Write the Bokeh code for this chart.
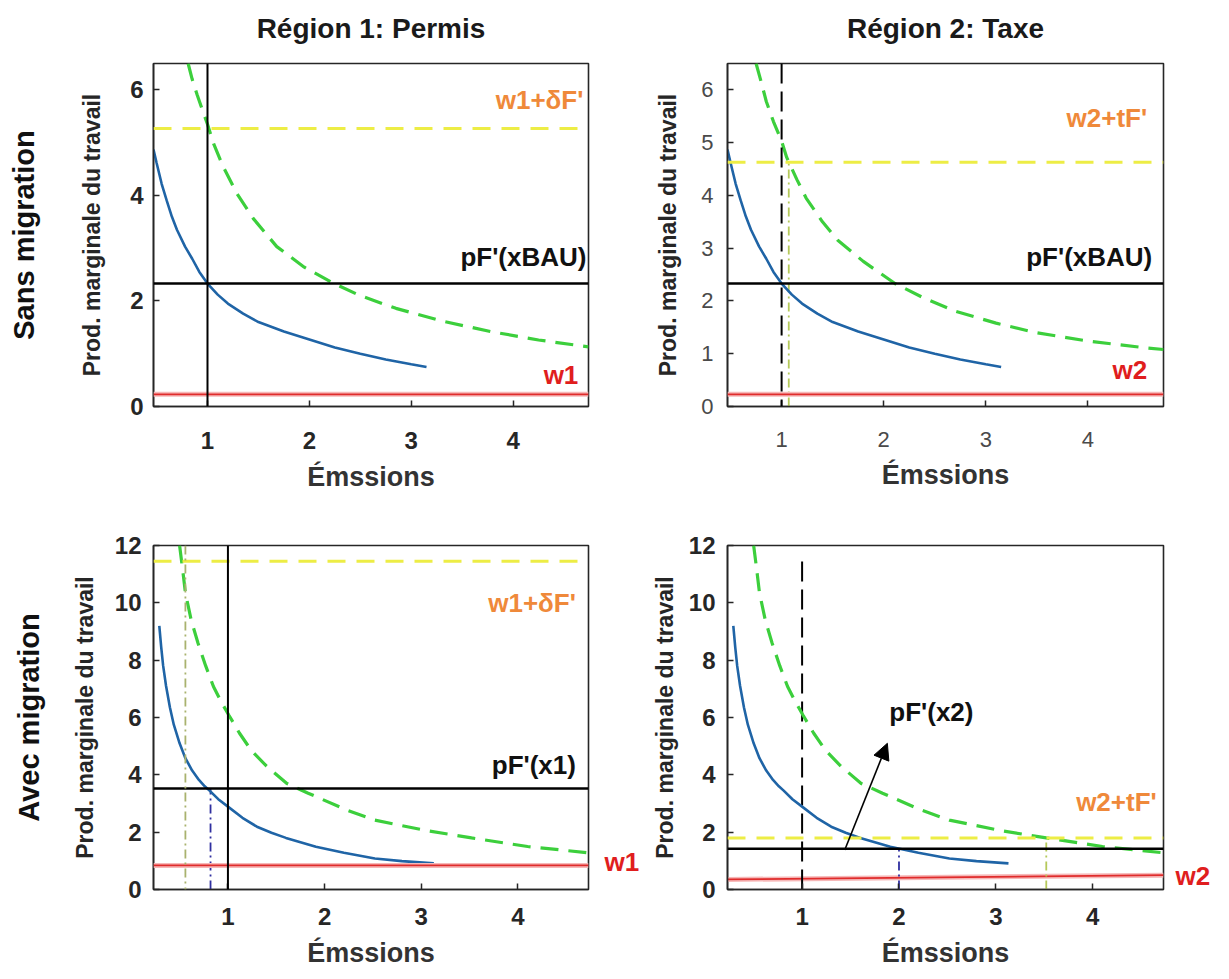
from bokeh.plotting import figure
from bokeh.models import (Range1d, LinearAxis, Label, Arrow, NormalHead, FixedTicker,
                          Span, CustomJSTickFormatter)
from bokeh.layouts import column, row
from bokeh.embed import file_html
from bokeh.resources import INLINE

# ---------------- data ----------------
col_titles = ["Région 1: Permis", "Région 2: Taxe"]
row_titles = ["Sans migration", "Avec migration"]
x_label = "Émssions"
y_label = "Prod. marginale du travail"

x_ticks = [1, 2, 3, 4]
y_ticks_tl = [0, 2, 4, 6]
y_ticks_tr = [0, 1, 2, 3, 4, 5, 6]
y_ticks_bottom = [0, 2, 4, 6, 8, 10, 12]

x_range_top = [0.47, 4.74]
y_range_top = [0, 6.5]
x_range_bottom = [0.23, 4.73]
y_range_bottom = [0, 12]

# top row: blue marginal product curve (same in both regions)
top_blue_x = [0.47, 0.5, 0.55, 0.6, 0.65, 0.7, 0.78, 0.85, 0.92, 1.0, 1.1, 1.2, 1.35, 1.5,
              1.75, 2.0, 2.25, 2.5, 2.75, 3.0, 3.15]
top_blue_y = [4.87, 4.62, 4.22, 3.9, 3.6, 3.35, 3.03, 2.8, 2.55, 2.33, 2.12, 1.95, 1.76, 1.6,
              1.42, 1.27, 1.12, 1.0, 0.89, 0.8, 0.75]

# top-left green dashed curve
tl_green_x = [0.81, 0.85, 0.9, 0.95, 1.0, 1.06, 1.15, 1.29, 1.45, 1.68, 1.95, 2.23, 2.5, 2.85,
              3.3, 3.78, 4.25, 4.74]
tl_green_y = [6.5, 6.2, 5.9, 5.62, 5.35, 4.98, 4.56, 4.03, 3.56, 3.03, 2.64, 2.34, 2.1, 1.86,
              1.62, 1.42, 1.26, 1.13]

# top-right green dashed curve
tr_green_x = [0.75, 0.8, 0.85, 0.92, 1.0, 1.05, 1.15, 1.24, 1.4, 1.55, 1.8, 2.11, 2.4, 2.71,
              3.1, 3.49, 4.0, 4.57, 4.74]
tr_green_y = [6.5, 6.15, 5.78, 5.4, 5.03, 4.72, 4.3, 3.95, 3.5, 3.15, 2.75, 2.33, 2.05, 1.8,
              1.58, 1.4, 1.24, 1.11, 1.08]

# bottom row: blue curve (same in both regions)
bot_blue_x = [0.29, 0.31, 0.33, 0.36, 0.4, 0.44, 0.5, 0.56, 0.63, 0.7, 0.76, 0.81, 0.9, 1.0,
              1.15, 1.3, 1.45, 1.6, 1.91, 2.2, 2.52, 2.8, 3.13]
bot_blue_y = [9.2, 8.45, 7.8, 7.1, 6.35, 5.75, 5.1, 4.58, 4.15, 3.82, 3.6, 3.45, 3.15, 2.89,
              2.5, 2.19, 1.98, 1.8, 1.49, 1.28, 1.08, 0.99, 0.91]

# bottom row: green dashed curve
bot_green_x = [0.5, 0.53, 0.56, 0.62, 0.69, 0.77, 0.85, 0.93, 1.01, 1.12, 1.24, 1.4, 1.61,
               1.83, 2.23, 2.52, 3.06, 3.52, 4.1, 4.73]
bot_green_y = [12.0, 11.2, 10.35, 9.4, 8.6, 7.8, 7.08, 6.55, 6.08, 5.45, 4.86, 4.3, 3.7,
               3.36, 2.77, 2.42, 2.05, 1.8, 1.5, 1.28]

# reference levels
tl_pf, tl_yellow, tl_red, tl_vline = 2.33, 5.27, 0.23, 1.0
tr_pf, tr_yellow, tr_red, tr_vdash, tr_olive_x = 2.33, 4.63, 0.23, 1.0, 1.07
bl_pf, bl_yellow, bl_red, bl_vline, bl_olive_x, bl_blue_x = 3.52, 11.45, 0.84, 1.0, 0.56, 0.82
br_pf, br_yellow, br_vdash, br_vdash_top, br_blue_x, br_olive_x = 1.42, 1.8, 1.0, 11.7, 2.0, 3.52
br_red_x = [0.23, 4.73]
br_red_y = [0.35, 0.50]
arrow_start = (1.44, 1.38)
arrow_end = (1.88, 5.1)

# annotation texts inside frames: (text, x, y, align, color)
tl_texts = [("w1+δF'", 4.69, 5.8, "right", "orange"),
            ("pF'(xBAU)", 4.72, 2.83, "right", "black"),
            ("w1", 4.64, 0.6, "right", "red")]
tr_texts = [("w2+tF'", 4.58, 5.47, "right", "orange"),
            ("pF'(xBAU)", 4.63, 2.83, "right", "black"),
            ("w2", 4.58, 0.70, "right", "red")]
bl_texts = [("w1+δF'", 4.6, 10.0, "right", "orange"),
            ("pF'(x1)", 4.6, 4.35, "right", "black")]
br_texts = [("w2+tF'", 4.66, 3.06, "right", "orange"),
            ("pF'(x2)", 1.9, 6.2, "left", "black")]
# labels drawn just outside the right edge of the bottom frames: (text, y)
bl_outside = ("w1", 0.95)
br_outside = ("w2", 0.48)

# ---------------- style ----------------
FONT = "Liberation Sans"
BLUE = "#1f64a6"
GREEN = "#3ccf3c"
YELLOW = "#eded45"
RED = "#e02b2b"
RED_HALO = "#f6b8b8"
OLIVE = "#a9b26e"
OLIVE2 = "#b5c95a"
DDBLUE = "#2f2fa0"
TEXT_COLORS = {"orange": "#ef893a", "black": "#111111", "red": "#e01e1e"}
DARK = "#262626"


def label_axis(p, text, loc, size, standoff, color="#111111"):
    """An axis without ticks whose only content is its label (used for row/column titles)."""
    ax = LinearAxis(ticker=FixedTicker(ticks=[]), axis_label=text,
                    axis_label_standoff=standoff, axis_label_text_font=FONT,
                    axis_label_text_font_size=size, axis_label_text_font_style="bold",
                    axis_label_text_color=color, axis_line_color=None,
                    major_tick_in=0, major_tick_out=0, minor_tick_in=0, minor_tick_out=0,
                    major_label_standoff=0)
    p.add_layout(ax, loc)


def make_panel(width, height, xr, yr, yticks, mb, tick_std, lab_std, xtick_std, xlab_std,
               bold_ticks=True):
    p = figure(width=width, height=height, x_range=Range1d(*xr), y_range=Range1d(*yr),
               output_backend="svg", toolbar_location=None,
               min_border_left=mb[0], min_border_right=mb[1],
               min_border_top=mb[2], min_border_bottom=mb[3])
    p.background_fill_color = "white"
    p.border_fill_color = "white"
    p.outline_line_color = DARK
    p.outline_line_width = 1.6
    p.xgrid.grid_line_color = None
    p.ygrid.grid_line_color = None

    tick_style = "bold" if bold_ticks else "normal"
    tick_color = DARK if bold_ticks else "#4a4a4a"
    tick_size = "24px" if bold_ticks else "22px"

    for ax, tks in ((p.xaxis[0], x_ticks), (p.yaxis[0], yticks)):
        ax.ticker = FixedTicker(ticks=tks)
        ax.major_tick_in = 6
        ax.major_tick_out = 0
        ax.minor_tick_line_color = None
        ax.axis_line_color = DARK
        ax.axis_line_width = 1.6
        ax.major_tick_line_color = DARK
        ax.major_tick_line_width = 1.5
        ax.major_label_text_font = FONT
        ax.major_label_text_font_size = tick_size
        ax.major_label_text_font_style = tick_style
        ax.major_label_text_color = tick_color
        ax.axis_label_text_font = FONT
        ax.axis_label_text_font_style = "bold"
    p.xaxis[0].axis_label = x_label
    p.xaxis[0].axis_label_text_font_size = "27px"
    p.xaxis[0].axis_label_text_color = "#333333"
    p.xaxis[0].major_label_standoff = xtick_std
    p.xaxis[0].axis_label_standoff = xlab_std
    p.yaxis[0].axis_label = y_label
    p.yaxis[0].axis_label_text_font_size = "23px"
    p.yaxis[0].axis_label_text_color = DARK
    p.yaxis[0].major_label_standoff = tick_std
    p.yaxis[0].axis_label_standoff = lab_std
    p.yaxis[0].major_label_orientation = "horizontal"
    return p


def add_texts(p, texts, size="26px"):
    for t, x, y, al, c in texts:
        p.add_layout(Label(x=x, y=y, text=t, text_align=al, text_baseline="middle",
                           text_font=FONT, text_font_size=size, text_font_style="bold",
                           text_color=TEXT_COLORS[c]))


def add_outside_label(p, item, standoff):
    text, y = item
    ax = LinearAxis(ticker=FixedTicker(ticks=[y]),
                    formatter=CustomJSTickFormatter(code="return '%s';" % text),
                    axis_line_color=None, major_tick_line_color=None,
                    major_tick_in=0, major_tick_out=0,
                    minor_tick_line_color=None, major_label_standoff=standoff,
                    major_label_text_font=FONT, major_label_text_font_size="26px",
                    major_label_text_font_style="bold",
                    major_label_text_color=TEXT_COLORS["red"])
    p.add_layout(ax, "right")


def hspan(p, y, color, width, dash="solid"):
    p.add_layout(Span(location=y, dimension="width", line_color=color,
                      line_width=width, line_dash=dash))


def vspan(p, x, color, width, dash="solid"):
    p.add_layout(Span(location=x, dimension="height", line_color=color,
                      line_width=width, line_dash=dash))


W1, W2 = 645, 582
H1, H2 = 495, 483

# ---------------- top-left ----------------
p1 = make_panel(W1, H1, x_range_top, y_range_top, y_ticks_tl, (153, W1 - 588, 63, H1 - 406),
                10, 22, 25, 10, True)
label_axis(p1, col_titles[0], "above", "28px", 20, "#1a1a1a")
label_axis(p1, row_titles[0], "left", "29px", 37)
hspan(p1, tl_red, RED_HALO, 5)
hspan(p1, tl_red, RED, 1.8)
hspan(p1, tl_yellow, YELLOW, 3, "18 11")
hspan(p1, tl_pf, "black", 2.5)
vspan(p1, tl_vline, "black", 2)
p1.line(tl_green_x, tl_green_y, line_color=GREEN, line_width=3.2, line_dash="18 10")
p1.line(top_blue_x, top_blue_y, line_color=BLUE, line_width=2.6)
add_texts(p1, tl_texts)

# ---------------- top-right ----------------
p2 = make_panel(W2, H1, x_range_top, y_range_top, y_ticks_tr,
                (727 - W1, W1 + W2 - 1163, 63, H1 - 406),
                14, 17, 25, 10, False)
label_axis(p2, col_titles[1], "above", "28px", 20, "#1a1a1a")
hspan(p2, tr_red, RED_HALO, 5)
hspan(p2, tr_red, RED, 1.8)
hspan(p2, tr_yellow, YELLOW, 3, "18 11")
hspan(p2, tr_pf, "black", 2.5)
vspan(p2, tr_vdash, "black", 2, "20 8")
p2.segment(x0=[tr_olive_x], y0=[0], x1=[tr_olive_x], y1=[tr_yellow], line_color=OLIVE2,
           line_width=1.8, line_dash="9 4 2 4")
p2.line(tr_green_x, tr_green_y, line_color=GREEN, line_width=3.2, line_dash="18 10")
p2.line(top_blue_x, top_blue_y, line_color=BLUE, line_width=2.6)
add_texts(p2, tr_texts)

# ---------------- bottom-left ----------------
p3 = make_panel(W1, H2, x_range_bottom, y_range_bottom, y_ticks_bottom,
                (153, W1 - 588, 545 - H1, H1 + H2 - 889),
                12, 14, 18, 10, True)
label_axis(p3, row_titles[1], "left", "29px", 24)
hspan(p3, bl_red, RED_HALO, 5)
hspan(p3, bl_red, RED, 1.8)
hspan(p3, bl_yellow, YELLOW, 3, "18 11")
hspan(p3, bl_pf, "black", 2.5)
vspan(p3, bl_vline, "black", 2)
vspan(p3, bl_olive_x, OLIVE, 1.8, "9 4 2 4")
p3.segment(x0=[bl_blue_x], y0=[0], x1=[bl_blue_x], y1=[bl_pf], line_color=DDBLUE,
           line_width=1.8, line_dash="9 4 2 4")
p3.line(bot_green_x, bot_green_y, line_color=GREEN, line_width=3.2, line_dash="18 10")
p3.line(bot_blue_x, bot_blue_y, line_color=BLUE, line_width=2.6)
add_texts(p3, bl_texts)
add_outside_label(p3, bl_outside, 16)

# ---------------- bottom-right ----------------
p4 = make_panel(W2, H2, x_range_bottom, y_range_bottom, y_ticks_bottom,
                (727 - W1, W1 + W2 - 1163, 545 - H1, H1 + H2 - 889),
                12, 8, 18, 10, True)
p4.line(br_red_x, br_red_y, line_color=RED_HALO, line_width=5)
p4.line(br_red_x, br_red_y, line_color=RED, line_width=1.8)
hspan(p4, br_yellow, YELLOW, 3, "18 11")
hspan(p4, br_pf, "black", 2.5)
p4.segment(x0=[br_vdash], y0=[0], x1=[br_vdash], y1=[br_vdash_top], line_color="black",
           line_width=2, line_dash="20 8")
p4.segment(x0=[br_blue_x], y0=[0], x1=[br_blue_x], y1=[br_pf], line_color=DDBLUE,
           line_width=1.8, line_dash="9 4 2 4")
p4.segment(x0=[br_olive_x], y0=[0], x1=[br_olive_x], y1=[br_yellow], line_color=OLIVE2,
           line_width=1.8, line_dash="9 4 2 4")
p4.line(bot_green_x, bot_green_y, line_color=GREEN, line_width=3.2, line_dash="18 10")
p4.line(bot_blue_x, bot_blue_y, line_color=BLUE, line_width=2.6)
p4.add_layout(Arrow(end=NormalHead(size=16, fill_color="black", line_color="black"),
                    x_start=arrow_start[0], y_start=arrow_start[1],
                    x_end=arrow_end[0], y_end=arrow_end[1],
                    line_color="black", line_width=1.6))
add_texts(p4, br_texts)
add_outside_label(p4, br_outside, 12)

layout = column(row(p1, p2), row(p3, p4))
open("out.html", "w").write(file_html(layout, INLINE))
